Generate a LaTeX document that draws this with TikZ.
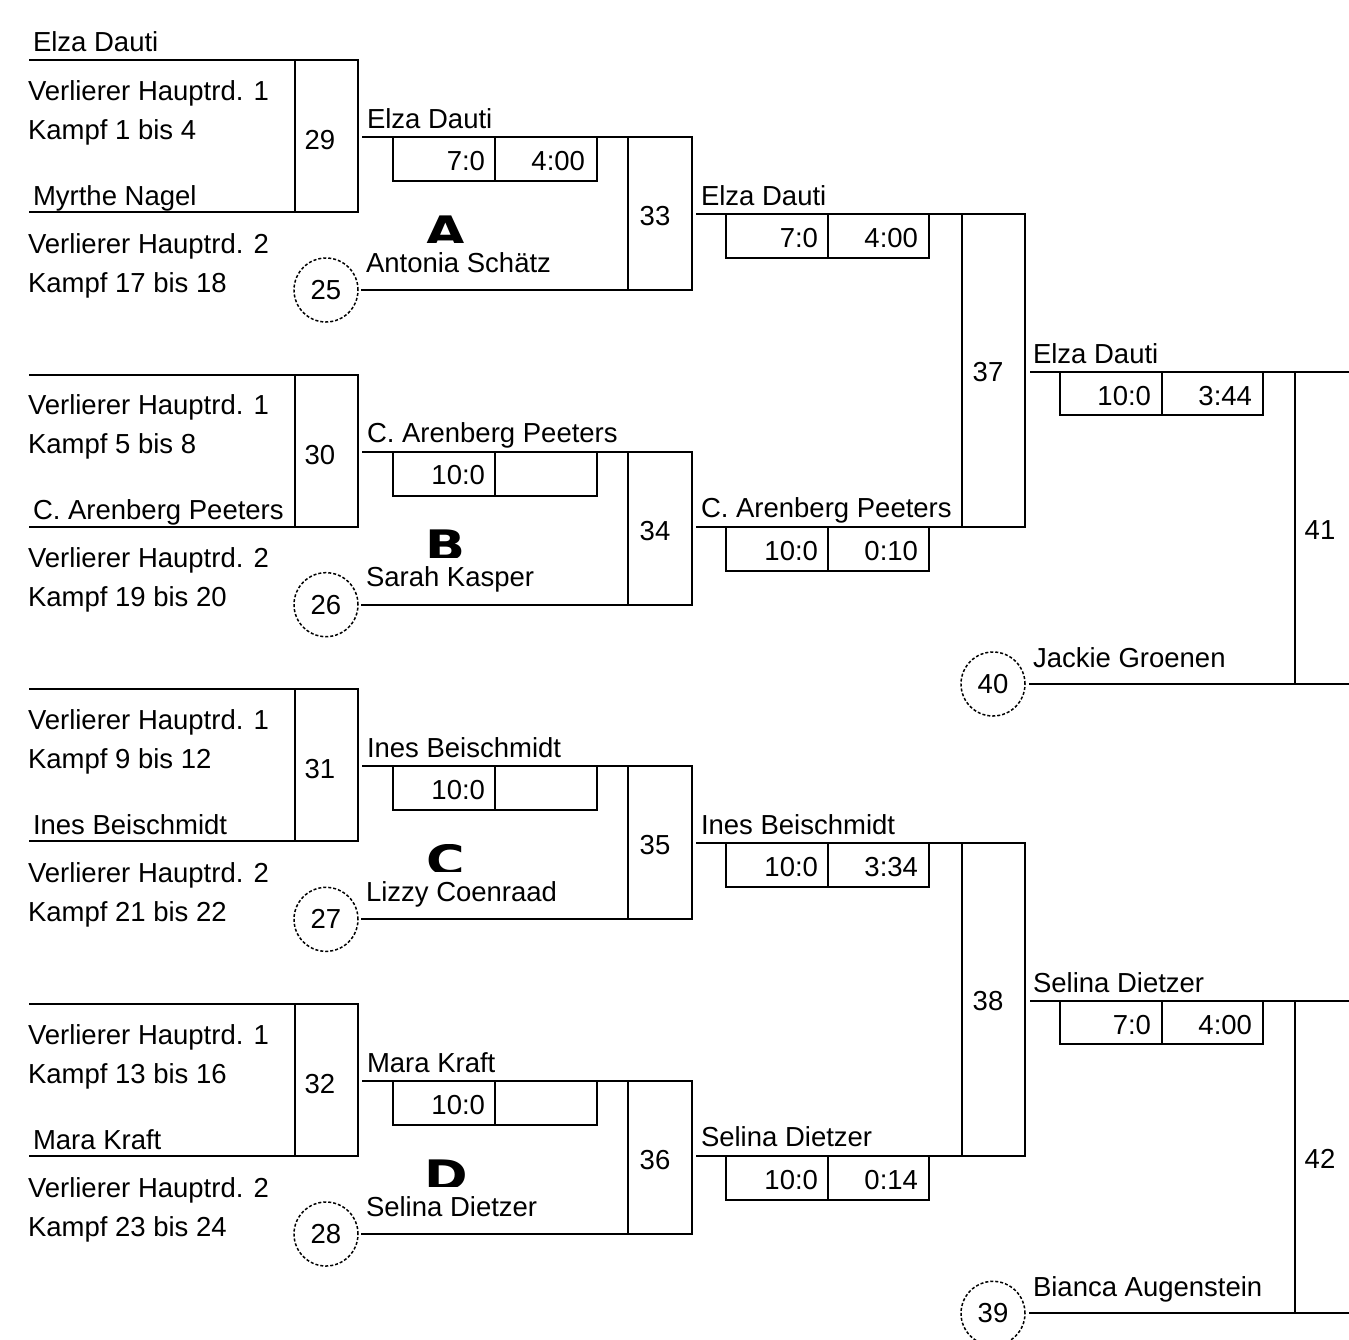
\documentclass[tikz,border=0pt]{standalone}
\usepackage{graphicx}
\usepackage{fontspec}
\setmainfont{Liberation Sans}
\newfontfamily\glyphfont{DejaVu Sans}
\begin{document}
\begin{tikzpicture}[x=1pt,y=-1pt,
  ln/.style={line width=2pt},
  txt/.style={inner sep=0pt, outer sep=0pt, anchor=base west, font=\fontsize{27.5}{33}\selectfont},
  numtxt/.style={inner sep=0pt, outer sep=0pt, font=\fontsize{27.5}{33}\selectfont},
  seed/.style={circle, draw, dash pattern=on 3pt off 2pt, line width=1.5pt, minimum size=64pt, inner sep=0pt, outer sep=0pt, font=\fontsize{27.5}{33}\selectfont},
  scorebox/.style={draw, line width=2pt, rectangle, minimum height=44pt, inner sep=0pt, outer sep=0pt},
  matchbox/.style={draw, line width=2pt, rectangle, inner sep=0pt, outer sep=0pt},
  glyph/.style={inner sep=0pt, anchor=base, font=\glyphfont\bfseries\fontsize{42}{42}\selectfont}
]
\fill[white] (0,0) rectangle (1349,1339);
\useasboundingbox (0,0) rectangle (1349,1339);
\clip (0,0) rectangle (1349,1339);

% top name of first group
\node[txt] (topname) at (33,51) {Elza Dauti};

% ---------- rounds 1 and 2 ----------
\foreach \i/\ma/\se/\ka/\kb/\nm/\mb/\wn/\sca/\scb/\lo/\lt in {
  0/29/25/1 bis 4/17 bis 18/Myrthe Nagel/33/Elza Dauti/{\hphantom{1}7:0}/4:00/Antonia Schätz/A,
  1/30/26/5 bis 8/19 bis 20/C. Arenberg Peeters/34/C. Arenberg Peeters/10:0/{}/Sarah Kasper/B,
  2/31/27/9 bis 12/21 bis 22/Ines Beischmidt/35/Ines Beischmidt/10:0/{}/Lizzy Coenraad/C,
  3/32/28/13 bis 16/23 bis 24/Mara Kraft/36/Mara Kraft/10:0/{}/Selina Dietzer/D}{
  \pgfmathsetmacro\d{\i*314.67}
  % round 1 box
  \node[matchbox, minimum width=63pt, minimum height=152pt] (m\ma) at (326.5,{136+\d}) {};
  \coordinate (l1\ma) at (29,{60+\d});
  \coordinate (l2\ma) at (29,{212+\d});
  \draw[ln] (l1\ma) -- (m\ma.north west);
  \draw[ln] (l2\ma) -- (m\ma.south west);
  \node[numtxt] (n\ma) at (320,{140+\d}) {\ma};
  \node[txt] (va\i) at (28,{100+\d}) {Verlierer Hauptrd. 1};
  \node[txt] (ka\i) at (28,{139+\d}) {Kampf \ka};
  \node[txt] (wa\i) at (33,{205+\d}) {\nm};
  \node[txt] (vb\i) at (28,{253+\d}) {Verlierer Hauptrd. 2};
  \node[txt] (kb\i) at (28,{292+\d}) {Kampf \kb};
  \node[seed] (s\se) at (326,{290+\d}) {\se};
  % round 2 box
  \node[matchbox, minimum width=64pt, minimum height=153pt] (m\mb) at (660,{213.5+\d}) {};
  \coordinate (a\mb) at (362,{137+\d});
  \draw[ln] (a\mb) -- (m\mb.north west);
  \draw[ln, shorten <=3pt] (s\se.east) -- (m\mb.south west);
  \node[numtxt] (n\mb) at (655,{216+\d}) {\mb};
  \node[scorebox, minimum width=204pt] (sc\mb) at (495,{159+\d}) {};
  \draw[ln] (sc\mb.north) -- (sc\mb.south);
  \node[txt, anchor=base east] (sl\mb) at (485,{170+\d}) {\sca};
  \node[txt, anchor=base east] (sr\mb) at (585,{170+\d}) {\scb};
  \node[txt] (wn\mb) at (367,{128+\d}) {\wn};
  \node[txt] (lo\mb) at (366,{272+\d}) {\lo};
  \begin{scope}
    \clip (415,{215+\d}) rectangle (480,{242.5+\d});
    \node[glyph] (g\mb) at (446,{246+\d}) {\scalebox{1.25}[1]{\lt}};
  \end{scope}
}

% ---------- round 3 ----------
\foreach \j/\mc/\ta/\tsa/\tsb/\ba/\bsa/\bsb in {
  0/37/Elza Dauti/{\hphantom{1}7:0}/4:00/C. Arenberg Peeters/10:0/0:10,
  1/38/Ines Beischmidt/10:0/3:34/Selina Dietzer/10:0/0:14}{
  \pgfmathsetmacro\e{\j*629.33}
  \node[matchbox, minimum width=63pt, minimum height=313pt] (m\mc) at (993.5,{370.5+\e}) {};
  \coordinate (t\mc) at (696,{214+\e});
  \coordinate (b\mc) at (696,{527+\e});
  \draw[ln] (t\mc) -- (m\mc.north west);
  \draw[ln] (b\mc) -- (m\mc.south west);
  \node[numtxt] (n\mc) at (988,{372+\e}) {\mc};
  \node[scorebox, minimum width=203pt] (st\mc) at (827.5,{236+\e}) {};
  \draw[ln] (st\mc.north) -- (st\mc.south);
  \node[scorebox, minimum width=203pt] (sb\mc) at (827.5,{549+\e}) {};
  \draw[ln] (sb\mc.north) -- (sb\mc.south);
  \node[txt] (wt\mc) at (701,{205+\e}) {\ta};
  \node[txt, anchor=base east] at (818,{247+\e}) {\tsa};
  \node[txt, anchor=base east] at (918,{247+\e}) {\tsb};
  \node[txt] (wb\mc) at (701,{517+\e}) {\ba};
  \node[txt, anchor=base east] at (818,{560+\e}) {\bsa};
  \node[txt, anchor=base east] at (918,{560+\e}) {\bsb};
}

% ---------- round 4 ----------
\foreach \j/\md/\se/\ta/\tsa/\tsb/\lo in {
  0/41/40/Elza Dauti/10:0/3:44/Jackie Groenen,
  1/42/39/Selina Dietzer/{\hphantom{1}7:0}/4:00/Bianca Augenstein}{
  \pgfmathsetmacro\e{\j*629.33}
  \node[matchbox, minimum width=64pt, minimum height=312pt] (m\md) at (1327,{528+\e}) {};
  \coordinate (t\md) at (1030,{372+\e});
  \draw[ln] (t\md) -- (m\md.north west);
  \node[seed] (s\se) at (993,{684+\e}) {\se};
  \draw[ln, shorten <=4pt] (s\se.east) -- (m\md.south west);
  \node[numtxt] (n\md) at (1320,{530+\e}) {\md};
  \node[scorebox, minimum width=203pt, minimum height=43pt] (sc\md) at (1161.5,{393.5+\e}) {};
  \draw[ln] (sc\md.north) -- (sc\md.south);
  \node[txt] (wn\md) at (1033,{363+\e}) {\ta};
  \node[txt, anchor=base east] at (1151,{405+\e}) {\tsa};
  \node[txt, anchor=base east] at (1252,{405+\e}) {\tsb};
  \node[txt] (lo\md) at (1033,{667+\e}) {\lo};
}
\end{tikzpicture}
\end{document}
